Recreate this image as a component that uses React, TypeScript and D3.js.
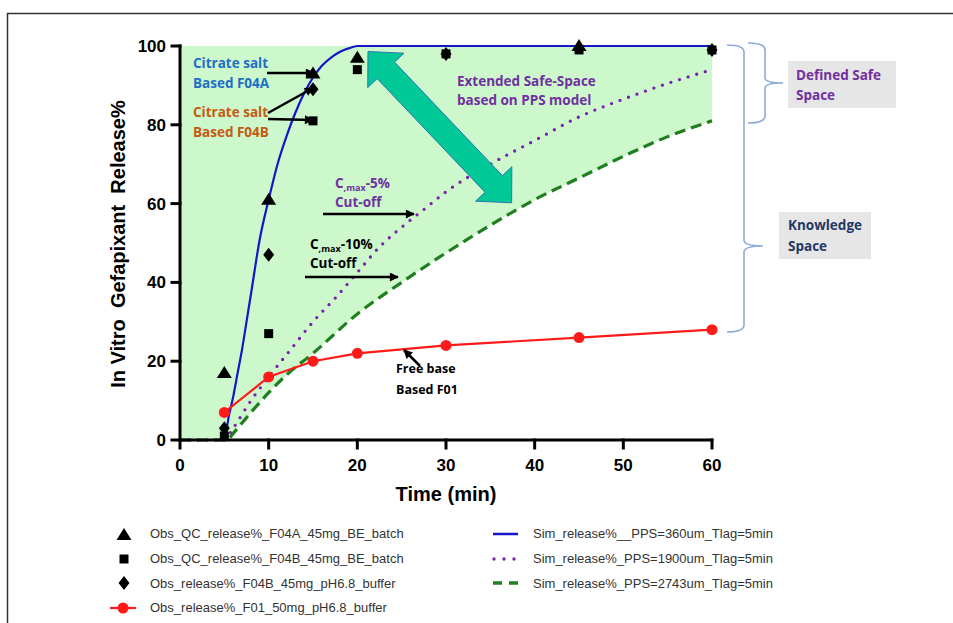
import * as d3 from 'd3';

// observed release (%) at sampling times (min)
const obsTime = [5, 10, 15, 20, 30, 45, 60];
const f04aQc = [17, 61, 93, 97, NaN, 100, NaN];
const f04bQc = [1, 27, 81, 94, 98, 99, 99];
const f04bBuffer = [3, 47, 89, NaN, 98, NaN, 99];
const f01Buffer = [7, 16, 20, 22, 24, 26, 28];

// simulated curves (PPS model)
const simTime360 = [0, 5, 5.5, 6, 6.5, 7, 7.5, 8, 9, 10, 11, 12, 13, 14, 15, 16, 17, 18, 19, 20, 30, 40, 50, 60];
const sim360 = [0, 0, 6, 11, 17, 23, 30, 37, 51, 61, 70, 77, 83, 88, 92, 95, 97, 98.5, 99.4, 100, 100, 100, 100, 100];
const simTime1900 = [0, 5, 6, 8, 10, 12.5, 15, 17.5, 20, 22.5, 25, 27.5, 30, 35, 40, 45, 50, 55, 60];
const sim1900 = [0, 0, 3, 10, 16, 23, 30, 36, 42.5, 49, 54, 58.5, 63, 70, 76, 82, 86.5, 90.5, 94];
const simTime2743 = [0, 5.3, 6, 8, 10, 12, 15, 20, 25, 30, 35, 40, 45, 50, 55, 60];
const sim2743 = [0, 0, 1.7, 7, 12, 16.5, 22, 32, 40, 47.5, 54.5, 61, 66.5, 72, 77, 81];

const xTicks = [0, 10, 20, 30, 40, 50, 60];
const yTicks = [0, 20, 40, 60, 80, 100];

const obsLabels = [
  'Obs_QC_release%_F04A_45mg_BE_batch',
  'Obs_QC_release%_F04B_45mg_BE_batch',
  'Obs_release%_F04B_45mg_pH6.8_buffer',
  'Obs_release%_F01_50mg_pH6.8_buffer',
];
const simLabels = [
  'Sim_release%__PPS=360um_Tlag=5min',
  'Sim_release%_PPS=1900um_Tlag=5min',
  'Sim_release%_PPS=2743um_Tlag=5min',
];

const BLUE = '#1616c8';
const PURPLE = '#7a1fb0';
const GREEN = '#1f7f1f';
const RED = '#ff1a1a';
const TXT_PURPLE = '#7030a0';
const ANN = "'Open Sans', sans-serif";
const ARIAL = "'Liberation Sans', Arial, sans-serif";

const triPath = 'M0,-7L7.5,5L-7.5,5Z';
const sqPath = 'M-4.5,-4.5H4.5V4.5H-4.5Z';
const diaPath = 'M0,-7L5.5,0L0,7L-5.5,0Z';

function dblArrow(ax: number, ay: number, bx: number, by: number, hw: number, sw: number, hl: number) {
  const dx = bx - ax, dy = by - ay, L = Math.hypot(dx, dy);
  const ux = dx / L, uy = dy / L, nx = -uy, ny = ux;
  const p = (s: number, w: number) => `${ax + ux * s + nx * w},${ay + uy * s + ny * w}`;
  return [p(0, 0), p(hl, hw), p(hl, sw), p(L - hl, sw), p(L - hl, hw), p(L, 0),
    p(L - hl, -hw), p(L - hl, -sw), p(hl, -sw), p(hl, -hw)].join(' ');
}

export default function App() {
  const x = d3.scaleLinear().domain([0, 60]).range([180, 712]);
  const y = d3.scaleLinear().domain([0, 100]).range([440, 46]);

  const line = d3.line<[number, number]>()
    .x(d => x(d[0])).y(d => y(d[1])).curve(d3.curveMonotoneX);
  const straight = d3.line<[number, number]>().x(d => x(d[0])).y(d => y(d[1]));
  const zip = (t: number[], v: number[]) => t.map((tt, i) => [tt, v[i]] as [number, number]);

  const area = d3.area<[number, number]>()
    .x(d => x(d[0])).y0(d => y(d[1])).y1(y(100)).curve(d3.curveMonotoneX);

  const f01 = zip(obsTime, f01Buffer);
  const pts = (v: number[]) => zip(obsTime, v).filter(d => !isNaN(d[1]));

  const arrow = (x1: number, y1: number, x2: number, y2: number, k: string) => (
    <line key={k} x1={x1} y1={y1} x2={x2} y2={y2} stroke="#000" strokeWidth={2.5} markerEnd="url(#ah)" />
  );

  return (
    <svg width={953} height={623} style={{ display: 'block', position: 'absolute', left: 0, top: 0 }}>
      <style>{'body{margin:0}'}</style>
      <defs>
        <marker id="ah" viewBox="0 0 10 10" refX={9} refY={5} markerWidth={10} markerHeight={9}
          markerUnits="userSpaceOnUse" orient="auto">
          <path d="M0,0L10,5L0,10Z" fill="#000" />
        </marker>
      </defs>
      <rect x={0} y={0} width={953} height={623} fill="#fff" />
      <rect x={7.5} y={13.5} width={1000} height={700} fill="none" stroke="#333" strokeWidth={1.5} />

      {/* safe space fill */}
      <path d={area(zip(simTime2743, sim2743)) || ''} fill="#ccf8cc" />

      {/* simulated curves */}
      <path d={line(zip(simTime2743, sim2743)) || ''} fill="none" stroke={GREEN} strokeWidth={3.2} strokeDasharray="11 6" />
      <path d={line(zip(simTime1900, sim1900)) || ''} fill="none" stroke={PURPLE} strokeWidth={3.3}
        strokeDasharray="0 9" strokeLinecap="round" />
      <path d={line(zip(simTime360, sim360)) || ''} fill="none" stroke={BLUE} strokeWidth={2.2} />

      {/* big teal double arrow */}
      <polygon points={dblArrow(x(21.2), y(98.6), x(37.4), y(60.2), 25, 12, 26)} fill="#00c896" stroke="#2e75b6" strokeWidth={1} />

      {/* axes */}
      <g stroke="#000" strokeWidth={3} strokeLinecap="square">
        <line x1={x(0)} y1={y(0)} x2={x(60)} y2={y(0)} />
        <line x1={x(0)} y1={y(0)} x2={x(0)} y2={y(100)} />
        {xTicks.map(t => <line key={'xt' + t} x1={x(t)} x2={x(t)} y1={y(0)} y2={y(0) + 8} />)}
        {yTicks.map(t => <line key={'yt' + t} x1={x(0)} x2={x(0) - 8} y1={y(t)} y2={y(t)} />)}
      </g>
      <g fontFamily={ARIAL} fontWeight="bold" fontSize={17} fill="#000">
        {xTicks.map(t => <text key={'xl' + t} x={x(t)} y={y(0) + 31} textAnchor="middle">{t}</text>)}
        {yTicks.map(t => <text key={'yl' + t} x={x(0) - 14} y={y(t) + 6} textAnchor="end">{t}</text>)}
        <text x={x(30)} y={501} textAnchor="middle" fontSize={20}>Time (min)</text>
        <text transform="translate(125,244) rotate(-90)" textAnchor="middle" fontSize={20} xmlSpace="preserve">In Vitro  Gefapixant  Release%</text>
      </g>

      {/* observed */}
      <path d={straight(f01) || ''} fill="none" stroke={RED} strokeWidth={2.2} />
      {f01.map((d, i) => <circle key={'r' + i} cx={x(d[0])} cy={y(d[1])} r={5.5} fill={RED} />)}
      {pts(f04aQc).map((d, i) => <path key={'a' + i} d={triPath} transform={`translate(${x(d[0])},${y(d[1])})`} fill="#000" />)}
      {pts(f04bQc).map((d, i) => <path key={'b' + i} d={sqPath} transform={`translate(${x(d[0])},${y(d[1])})`} fill="#000" />)}
      {pts(f04bBuffer).map((d, i) => <path key={'c' + i} d={diaPath} transform={`translate(${x(d[0])},${y(d[1])})`} fill="#000" />)}

      {/* annotations */}
      <g fontFamily={ANN} fontWeight="bold" fontSize={13.5}>
        <text x={193} y={68} fill="#1f6fc6">Citrate salt</text>
        <text x={193} y={88} fill="#1f6fc6">Based F04A</text>
        <text x={193} y={117} fill="#c55a11">Citrate salt</text>
        <text x={193} y={137} fill="#c55a11">Based F04B</text>
        {arrow(267, 73, 314, 73, 'a1')}
        {arrow(268, 113, 313, 88, 'a2')}
        {arrow(268, 119, 313, 120, 'a3')}

        <text x={335} y={188} fill={TXT_PURPLE}>C<tspan fontSize={9} dy={3}>,max</tspan><tspan dy={-3}>-5%</tspan></text>
        <text x={335} y={207} fill={TXT_PURPLE}>Cut-off</text>
        {arrow(323, 214, 414, 214, 'a4')}

        <text x={310} y={249} fill="#000">C<tspan fontSize={9} dy={3}>,max</tspan><tspan dy={-3}>-10%</tspan></text>
        <text x={310} y={268} fill="#000">Cut-off</text>
        {arrow(305, 277, 398, 277, 'a5')}

        <text x={457} y={86} fill={TXT_PURPLE}>Extended Safe-Space</text>
        <text x={457} y={105} fill={TXT_PURPLE}>based on PPS model</text>

        <text x={396} y={373} fill="#000" fontSize={12.5}>Free base</text>
        <text x={396} y={394} fill="#000" fontSize={12.5}>Based F01</text>
        {arrow(420, 366, 404, 350, 'a6')}
      </g>

      {/* braces and boxes */}
      <g fill="none" stroke="#8eaadb" strokeWidth={1.6}>
        <path d="M727,45 Q744,45 744,52 L744,240 Q744,246 763,246 Q744,246 744,252 L744,325 Q744,332 727,332" />
        <path d="M748,43 Q765,43 765,50 L765,78 Q765,83 783,83 Q765,83 765,88 L765,116 Q765,123 748,123" />
      </g>
      <rect x={788} y={61} width={108} height={47} fill="#e7e6e6" />
      <rect x={779} y={212} width={92} height={47} fill="#e7e6e6" />
      <g fontFamily={ANN} fontWeight="bold" fontSize={13.5}>
        <text x={796} y={80} fill={TXT_PURPLE}>Defined Safe</text>
        <text x={796} y={100} fill={TXT_PURPLE}>Space</text>
        <text x={788} y={230} fill="#1f3864">Knowledge</text>
        <text x={788} y={251} fill="#1f3864">Space</text>
      </g>

      {/* legend */}
      <g fontFamily={ARIAL} fontSize={13} fill="#333">
        {obsLabels.map((l, i) => <text key={'ol' + i} x={150} y={538 + i * 24.8}>{l}</text>)}
        <path d={triPath} transform="translate(124,535)" fill="#000" />
        <path d={sqPath} transform="translate(124,559)" fill="#000" />
        <path d={diaPath} transform="translate(124,583)" fill="#000" />
        <line x1={110} x2={136} y1={608} y2={608} stroke={RED} strokeWidth={2.2} />
        <circle cx={123} cy={608} r={5.5} fill={RED} />
        {simLabels.map((l, i) => <text key={'sl' + i} x={533} y={538 + i * 24.8}>{l}</text>)}
        <line x1={493} x2={518} y1={534} y2={534} stroke={BLUE} strokeWidth={2.5} />
        <line x1={494} x2={518} y1={559} y2={559} stroke={PURPLE} strokeWidth={3.3} strokeDasharray="0 10" strokeLinecap="round" />
        <line x1={493} x2={518} y1={583} y2={583} stroke={GREEN} strokeWidth={3.3} strokeDasharray="9 7" />
      </g>
    </svg>
  );
}
